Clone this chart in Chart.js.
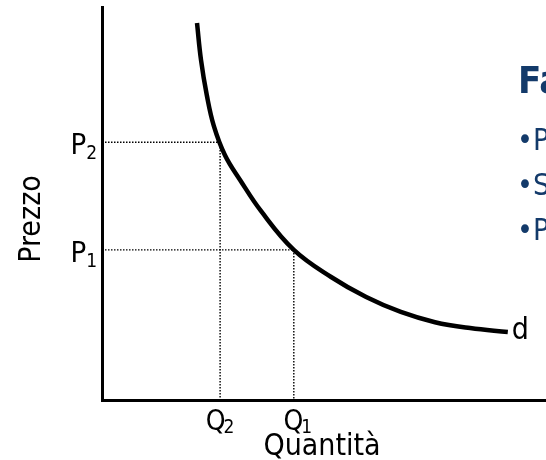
<!DOCTYPE html>
<html>
<head>
<meta charset="utf-8">
<style>
  html, body { margin: 0; padding: 0; background: #ffffff; overflow: hidden; }
  #wrap { width: 546px; height: 460px; position: relative; }
</style>
<script src="https://cdn.jsdelivr.net/npm/chart.js@4/dist/chart.umd.min.js"></script>
</head>
<body>
<div id="wrap"><canvas id="c" width="546" height="460"></canvas></div>
<script>
// Demand curve d: quantity (x) against price (y), schematic units 0–100
const demandQuantity = [21.4, 22.3, 23.6, 25.2, 27.7, 31.1, 35.8, 43.2, 51.6, 59.5, 67.3, 75.0, 82.9, 91.4];
const demandPrice    = [95.9, 86.5, 77.6, 69.7, 62.3, 56.0, 48.1, 38.2, 31.3, 26.2, 22.4, 19.8, 18.3, 17.3];

// Two price/quantity pairs on the curve: (Q1, P1) and (Q2, P2)
const priceLevels    = [38.2, 65.6];
const quantityLevels = [43.2, 26.6];
const levelSubscripts = ['1', '2'];

// Axis titles and curve name
const xTitle = 'Quantità';
const yTitle = 'Prezzo';
const curveName = 'd';

// Side panel text
const panelTitle = 'Fattori che influenzano l\u2019elasticità';
const panelItems = ['\u2022Presenza di beni sostituti', '\u2022Spesa sul reddito', '\u2022Periodo di tempo'];

const FONT = '"DejaVu Sans Condensed", "DejaVu Sans", sans-serif';
const NAVY = '#133a6a';

const demandPoints = demandQuantity.map((q, i) => ({ x: q, y: demandPrice[i] }));

// Dotted guide for each pair: from the price axis to the curve, then down to the quantity axis
const guideDatasets = priceLevels.map((p, i) => ({
  data: [{ x: 0, y: p }, { x: quantityLevels[i], y: p }, { x: quantityLevels[i], y: 0 }],
  showLine: true,
  borderColor: '#000000',
  borderWidth: 1.4,
  borderDash: [1.5, 1.5],
  pointRadius: 0,
  tension: 0,
  clip: false
}));

const labelsPlugin = {
  id: 'diagramLabels',
  afterDraw(chart) {
    const ctx = chart.ctx;
    const xs = chart.scales.x, ys = chart.scales.y;
    ctx.save();
    ctx.fillStyle = '#000000';
    ctx.textBaseline = 'alphabetic';

    // P labels beside the price axis
    priceLevels.forEach((p, i) => {
      const y = ys.getPixelForValue(p);
      ctx.font = '29px ' + FONT;
      const wMain = ctx.measureText('P').width;
      ctx.font = '19px ' + FONT;
      const wSub = ctx.measureText(levelSubscripts[i]).width;
      const right = xs.left - 5;
      ctx.font = '29px ' + FONT;
      ctx.textAlign = 'left';
      ctx.fillText('P', right - wSub - wMain, y + 12);
      ctx.font = '19px ' + FONT;
      ctx.fillText(levelSubscripts[i], right - wSub, y + 17);
    });

    // Q labels under the quantity axis
    quantityLevels.forEach((q, i) => {
      const x = xs.getPixelForValue(q);
      ctx.font = '28px ' + FONT;
      const wMain = ctx.measureText('Q').width;
      ctx.font = '19px ' + FONT;
      const wSub = ctx.measureText(levelSubscripts[i]).width;
      const left = x - (wMain + wSub - 2) / 2 + (i === 0 ? 4 : 0);
      ctx.textAlign = 'left';
      ctx.font = '28px ' + FONT;
      ctx.fillText('Q', left, ys.bottom + 30);
      ctx.font = '19px ' + FONT;
      ctx.fillText(levelSubscripts[i], left + wMain - 2, ys.bottom + 33);
    });

    // Axis titles
    ctx.font = '30px ' + FONT;
    ctx.textAlign = 'center';
    ctx.fillText(xTitle, 322, 455);
    ctx.save();
    ctx.translate(40, 219);
    ctx.rotate(-Math.PI / 2);
    ctx.fillText(yTitle, 0, 0);
    ctx.restore();

    // Curve name at its right end
    const last = demandPoints[demandPoints.length - 1];
    ctx.textAlign = 'left';
    ctx.font = '30px ' + FONT;
    ctx.fillText(curveName, xs.getPixelForValue(last.x) + 4, ys.getPixelForValue(last.y) + 7);

    // Side panel (runs past the right edge)
    ctx.fillStyle = NAVY;
    ctx.font = 'bold 38px ' + FONT;
    ctx.fillText(panelTitle, 518, 93);
    ctx.font = '30px ' + FONT;
    const baselines = [150, 195, 240];
    panelItems.forEach((t, i) => ctx.fillText(t, 517, baselines[i]));
    ctx.restore();
  }
};

new Chart(document.getElementById('c'), {
  type: 'scatter',
  data: {
    datasets: [
      {
        data: demandPoints,
        showLine: true,
        borderColor: '#000000',
        borderWidth: 4.5,
        pointRadius: 0,
        tension: 0.4,
        borderCapStyle: 'butt',
        clip: false
      },
      ...guideDatasets
    ]
  },
  plugins: [labelsPlugin],
  options: {
    responsive: false,
    devicePixelRatio: 1,
    animation: false,
    events: [],
    layout: { padding: { left: 102, top: 7, right: 0, bottom: 60 } },
    plugins: { legend: { display: false }, tooltip: { enabled: false } },
    scales: {
      x: {
        type: 'linear', min: 0, max: 100,
        grid: { display: false },
        ticks: { display: false },
        border: { display: true, color: '#000000', width: 3 },
        afterFit(s) { s.height = 0; }
      },
      y: {
        type: 'linear', min: 0, max: 100,
        grid: { display: false },
        ticks: { display: false },
        border: { display: true, color: '#000000', width: 3 },
        afterFit(s) { s.width = 0; }
      }
    }
  }
});
</script>
</body>
</html>
